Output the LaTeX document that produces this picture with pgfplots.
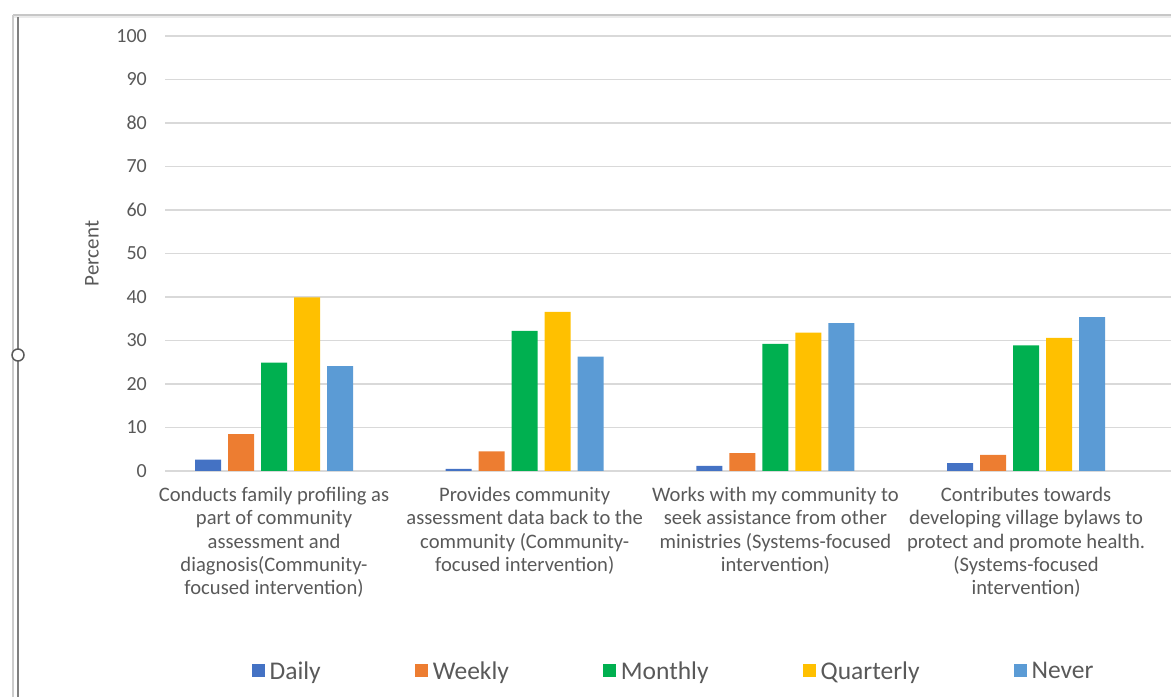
\documentclass[border=0pt]{standalone}
\usepackage{pgfplots}
\pgfplotsset{compat=1.18}
\usepackage{fontspec}
\setmainfont{Carlito}

\definecolor{cDaily}{HTML}{4472C4}
\definecolor{cWeekly}{HTML}{ED7D31}
\definecolor{cMonthly}{HTML}{00B050}
\definecolor{cQuarterly}{HTML}{FFC000}
\definecolor{cNever}{HTML}{5B9BD5}
\definecolor{gridgray}{HTML}{D9D9D9}
\definecolor{labelgray}{HTML}{595959}

% Frequency of each activity (percent); x = activity index
\pgfplotstableread{
x  daily weekly monthly quarterly never
0  2.6   8.5    24.9    39.9      24.1
1  0.5   4.5    32.2    36.6      26.3
2  1.2   4.1    29.2    31.8      34.0
3  1.8   3.7    28.9    30.6      35.4
}\freqdata

\begin{document}
\begin{tikzpicture}
\useasboundingbox (0bp,0bp) rectangle (1171bp,697bp);
% window frame around the chart object
\draw[color=black!22, line width=1.5bp] (13bp,682bp) -- (1171bp,682bp);
\draw[color=black!8, line width=2bp] (13bp,679.5bp) -- (1171bp,679.5bp);
\draw[color=black!20, line width=1.2bp] (13bp,0bp) -- (13bp,682bp);
\draw[color=black!50, line width=2.5bp] (18bp,0bp) -- (18bp,680bp);
\filldraw[fill=white, draw=black!65, line width=1.5bp] (18bp,342bp) circle (6bp);

\begin{axis}[
  at={(165bp,226bp)}, anchor=south west,
  scale only axis, width=1006bp, height=435bp,
  xmin=-0.435, xmax=3.578, ymin=0, ymax=100,
  enlargelimits=false,
  ybar=7bp, bar width=26bp,
  axis lines*=left,
  axis line style={draw=none},
  major tick length=0pt,
  ymajorgrids, grid style={gridgray, line width=1.2bp},
  ytick={0,10,...,100},
  xtick={0,1,2,3},
  xticklabels={
    {Conducts family profiling as\\part of community\\assessment and\\diagnosis(Community-\\focused intervention)},
    {Provides community\\assessment data back to the\\community (Community-\\focused intervention)},
    {Works with my community to\\seek assistance from other\\ministries (Systems-focused\\intervention)},
    {Contributes towards\\developing village bylaws to\\protect and promote health.\\(Systems-focused\\intervention)}},
  /pgf/number format/assume math mode=true,
  yticklabel style={font=\fontsize{20bp}{23bp}\selectfont, text=labelgray,
    inner sep=0pt, anchor=east, xshift=-18bp},
  xticklabel style={font=\fontsize{20.6bp}{23.3bp}\selectfont, text=labelgray,
    align=center, inner sep=0pt, anchor=north, yshift=-16bp},
  ylabel={Percent},
  ylabel style={font=\fontsize{21bp}{24bp}\selectfont, text=labelgray,
    at={(axis description cs:-0.0726,0.5)}, anchor=center, rotate=0},
  legend columns=5,
  legend style={at={(axis description cs:0.5045,-0.46)}, anchor=center,
    draw=none, fill=none, font=\fontsize{25.5bp}{28bp}\selectfont,
    text=labelgray, inner sep=0pt,
    nodes={inner sep=0pt},
    /tikz/every odd column/.append style={column sep=5bp},
    /tikz/every even column/.append style={column sep=94bp}},
  legend image code/.code={
    \fill[#1] (0bp,-6bp) rectangle (13bp,7bp);},
]
\addplot[fill=cDaily, draw=none] table[x=x, y=daily] {\freqdata};
\addplot[fill=cWeekly, draw=none] table[x=x, y=weekly] {\freqdata};
\addplot[fill=cMonthly, draw=none] table[x=x, y=monthly] {\freqdata};
\addplot[fill=cQuarterly, draw=none] table[x=x, y=quarterly] {\freqdata};
\addplot[fill=cNever, draw=none] table[x=x, y=never] {\freqdata};
\legend{Daily, Weekly, Monthly, Quarterly, Never}
\end{axis}
\end{tikzpicture}
\end{document}
